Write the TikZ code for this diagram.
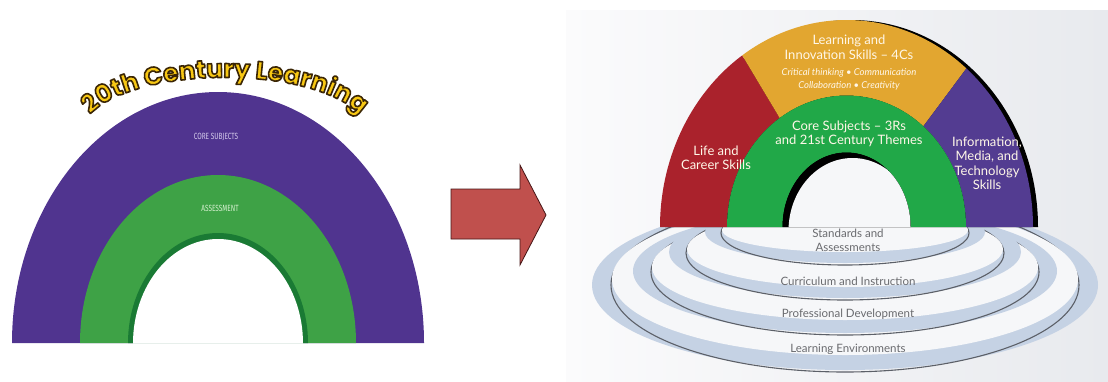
\documentclass[tikz,border=0pt]{standalone}
\usepackage{fontspec}
\usetikzlibrary{decorations.text}

\newfontfamily\titlefont{Poppins}
\newfontfamily\labelfont{Lato}
\newfontfamily\handfont{Fira Sans}[FakeStretch=0.72]

% left (old) arch
\definecolor{oldpurple}{RGB}{80,52,143}
\definecolor{oldgreen}{RGB}{62,162,70}
\definecolor{olddark}{RGB}{26,122,52}
\definecolor{corecol}{RGB}{214,204,236}
\definecolor{assesscol}{RGB}{214,240,208}
\definecolor{titlefill}{RGB}{248,200,20}
% arrow
\definecolor{arrowred}{RGB}{192,80,77}
\definecolor{arrowedge}{RGB}{70,22,22}
% right (new) arch
\definecolor{newred}{RGB}{170,34,44}
\definecolor{newyellow}{RGB}{226,166,48}
\definecolor{newgreen}{RGB}{33,168,72}
\definecolor{newpurple}{RGB}{83,60,145}
\definecolor{archink}{RGB}{255,247,232}
\definecolor{bgleft}{RGB}{251,251,252}
\definecolor{bgright}{RGB}{232,234,238}
\definecolor{ringblue}{RGB}{197,210,228}
\definecolor{ringline}{RGB}{92,96,104}
\definecolor{ringface}{RGB}{246,247,249}
\definecolor{ringink}{RGB}{106,107,111}

% outlined yellow letters: fill, then stroke in dark brown
\newcommand{\titlestyle}{\titlefont\bfseries\fontsize{25}{25}\selectfont
  \color{titlefill}\special{pdf:literal direct 2 Tr 1.6 w 1 j 0.23 0.15 0.02 RG}}

\begin{document}
\begin{tikzpicture}[x=1pt,y=-1pt,
  archtext/.style={text=archink, align=center, inner sep=0pt,
    font=\labelfont\fontsize{13}{14.5}\selectfont},
  archsmall/.style={text=archink, align=center, inner sep=0pt,
    font=\labelfont\itshape\fontsize{9.5}{12.5}\selectfont},
  ringtext/.style={text=ringink, align=center, inner sep=0pt,
    font=\labelfont\fontsize{11.5}{14}\selectfont},
  oldlabel/.style={inner sep=0pt, font=\handfont\fontsize{9}{9}\selectfont},
  ringedge/.style={draw=ringline, line width=1.1pt}]

\useasboundingbox (0,0) rectangle (1108,381);

% ---------- 20th century arch ----------
\fill[oldpurple] (12,343) arc[start angle=180,end angle=360,x radius=206,y radius=251] -- cycle;
\fill[oldgreen] (80,343) arc[start angle=180,end angle=360,x radius=138,y radius=168] -- cycle;
\fill[olddark] (128,343) arc[start angle=180,end angle=360,x radius=90,y radius=110] -- cycle;
\fill[white] (133,343.5) arc[start angle=180,end angle=360,x radius=85,y radius=104.5] -- cycle;

\node[oldlabel, text=corecol] (core20) at (216,137) {CORE SUBJECTS};
\node[oldlabel, text=assesscol] (assess20) at (220,208) {ASSESSMENT};

% ---------- block arrow ----------
\fill[arrowred, draw=arrowedge, line width=0.8pt, line join=miter]
  (451,189) -- (520,189) -- (520,165) -- (546,215) -- (520,265) -- (520,239) -- (451,239) -- cycle;

% ---------- 21st century framework ----------
\shade[left color=bgleft, right color=bgright] (566,10) rectangle (1108,381);

% support rings, outermost first:
% outer centre y / rx / ry, inner centre y / rx / ry, rim centre y / rx / ry
\foreach \c/\rx/\ry/\ic/\irx/\iry/\dc/\drx/\dry in
  {285/253/85/279/233/76/285/234/87,
   271/212/62/267/193/53/272/194/63,
   252/176/46/249/158/38/253/159/47,
   232/140/31/230/123/22/233/124/32}{
  \fill[ringblue] (845,\c) ellipse[x radius=\rx,y radius=\ry];
  \path[ringedge] (845,\dc) ellipse[x radius=\drx,y radius=\dry];
  \fill[ringface] (845,\ic) ellipse[x radius=\irx,y radius=\iry];
}

\begin{scope}[shift={(846.5,227)}]
  % drop shadow on the right rim
  \fill[black] (-181.5,0) arc[start angle=180,end angle=360,x radius=186.5,y radius=207] -- cycle;
  % outer segments
  \fill[newred] (180:186.5 and 207) arc[start angle=180,end angle=236,x radius=186.5,y radius=207]
    -- (236:119.5 and 131.5) arc[start angle=236,end angle=180,x radius=119.5,y radius=131.5] -- cycle;
  \fill[newyellow] (236:186.5 and 207) arc[start angle=236,end angle=310,x radius=186.5,y radius=207]
    -- (310:119.5 and 131.5) arc[start angle=310,end angle=236,x radius=119.5,y radius=131.5] -- cycle;
  \fill[newpurple] (310:186.5 and 207) arc[start angle=310,end angle=360,x radius=186.5,y radius=207]
    -- (360:119.5 and 131.5) arc[start angle=360,end angle=310,x radius=119.5,y radius=131.5] -- cycle;
  % core band
  \fill[newgreen] (180:119.5 and 131.5) arc[start angle=180,end angle=360,x radius=119.5,y radius=131.5]
    -- (0:64 and 74.5) arc[start angle=360,end angle=180,x radius=64,y radius=74.5] -- cycle;
  % opening with its inner shadow
  \begin{scope}
    \clip (-64,0) arc[start angle=180,end angle=360,x radius=64,y radius=74.5] -- cycle;
    \fill[black] (-70,-80) rectangle (70,1);
    \fill[ringface] (6,4) ellipse[x radius=64,y radius=73];
  \end{scope}
\end{scope}

% arch labels
\node[archtext] (lis) at (849,47.5) {Learning and\\Innovation Skills – 4Cs};
\node[archsmall] (fourcs) at (849,79.5) {Critical thinking • Communication\\Collaboration • Creativity};
\node[archtext] (core) at (849,134) {Core Subjects – 3Rs\\and 21st Century Themes};
\node[archtext] (life) at (716,158) {Life and\\Career Skills};
\node[archtext] (info) at (987,163.5) {Information,\\Media, and\\Technology\\Skills};

% ring labels
\node[ringtext] (sa) at (848,240.5) {Standards and\\Assessments};
\node[ringtext] (ci) at (848,281) {Curriculum and Instruction};
\node[ringtext] (pd) at (848,314) {Professional Development};
\node[ringtext] (le) at (848,349.5) {Learning Environments};

% title bent over the old arch (drawn last: it changes the text render mode)
\path[decorate,
  decoration={text along path, text align=center,
    text={|\titlestyle|20th Century Learning}}]
  (80,130) .. controls (106,60) and (344,60) .. (370,130);
\end{tikzpicture}
\end{document}
